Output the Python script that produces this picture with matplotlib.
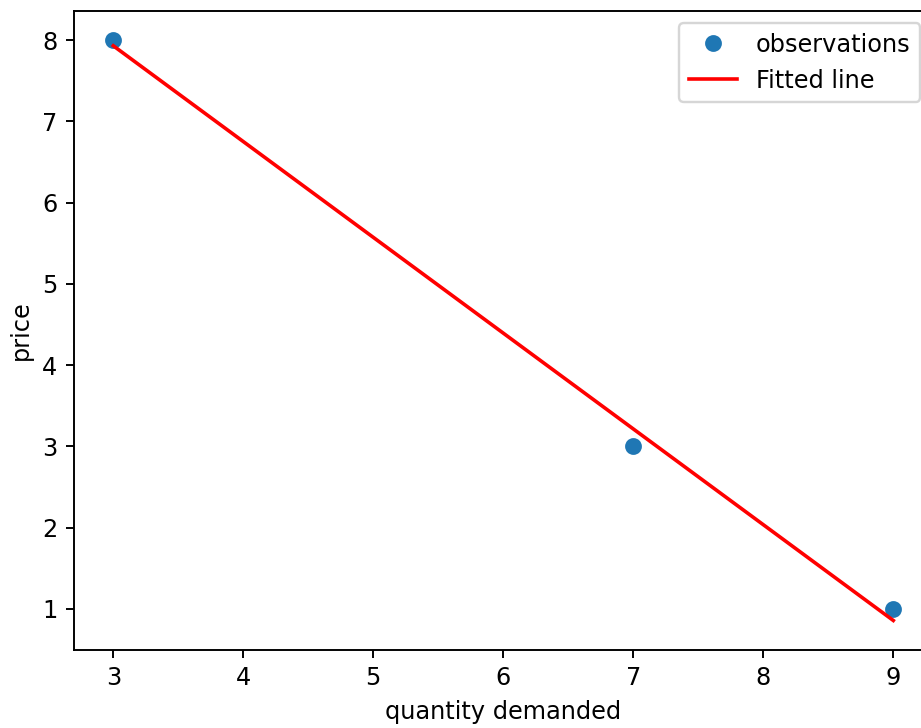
import matplotlib
matplotlib.use("Agg")
import matplotlib.pyplot as plt

quantity = [3, 7, 9]
price = [8, 3, 1]
fit_x = [3, 7, 9]
fit_y = [7.929, 3.214, 0.857]

DPI = 172.8
W, H = 921, 728
fig = plt.figure(figsize=(W/DPI, H/DPI), dpi=DPI)
ax = fig.add_axes([74.3/W, 1 - 649.5/H, (932.3 - 74.3)/W, (649.5 - 11)/H])
ax.plot(quantity, price, 'o', label='observations')
ax.plot(fit_x, fit_y, 'r', label='Fitted line')
ax.set_xlabel('quantity demanded')
ax.set_ylabel('price')
ax.legend(loc='upper right')
fig.savefig('out.png', dpi=DPI)
